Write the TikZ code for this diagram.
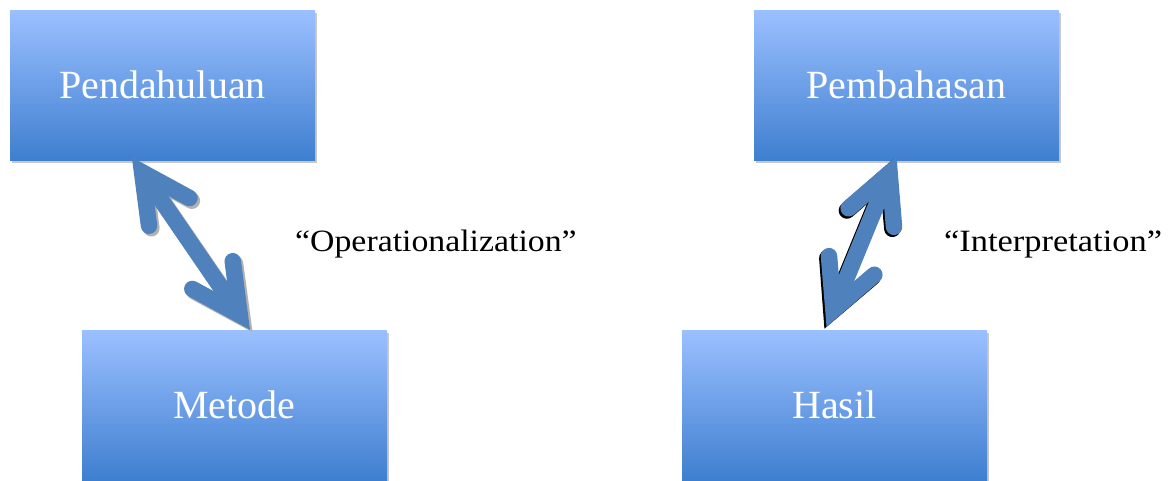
\documentclass[tikz,border=0pt]{standalone}
\usepackage{fontspec}
\setmainfont{Liberation Serif}
\usetikzlibrary{calc,shadows}
\definecolor{boxtop}{HTML}{9BC0FF}
\definecolor{boxbot}{HTML}{3F7FD0}
\definecolor{arrowblue}{HTML}{4F81BD}
\tikzset{
  box/.style={rectangle, minimum width=305pt, minimum height=150pt, inner sep=0pt,
    top color=boxtop, bottom color=boxbot, draw=none, text=white,
    font=\fontsize{40}{40}\selectfont,
    drop shadow={shadow xshift=2pt, shadow yshift=-2.5pt, fill=black, opacity=0.22}},
  lbl/.style={anchor=base west, inner sep=0pt, text=black, font=\fontsize{31}{31}\selectfont},
  arr/.style={line width=16.5pt, draw=arrowblue},
  arrshadeA/.style={line width=16.5pt, draw=black!30},
  arrshadeB/.style={line width=16.5pt, draw=black},
}
% #1 tip A, #2 tip B, #3 style, #4 offset
\newcommand{\dblarrow}[4]{%
  \coordinate (#1v) at ($(#1)!18.2pt!(#2)+(#4)$);
  \coordinate (#2v) at ($(#2)!18.2pt!(#1)+(#4)$);
  \coordinate (#1p) at ($(#1v)!54pt!27:(#2)$);
  \coordinate (#1m) at ($(#1v)!54pt!-27:(#2)$);
  \coordinate (#2p) at ($(#2v)!54pt!27:(#1)$);
  \coordinate (#2m) at ($(#2v)!54pt!-27:(#1)$);
  \draw[#3, line cap=butt] (#1v) -- (#2v);
  \draw[#3, line cap=round, line join=miter] (#1p) -- (#1v) -- (#1m);
  \draw[#3, line cap=round, line join=miter] (#2p) -- (#2v) -- (#2m);
}
\begin{document}
\begin{tikzpicture}[x=1pt, y=-1pt]
\useasboundingbox (0,0) rectangle (1172,480);
\fill[white] (0,0) rectangle (1172,480);

\node[box] (pend) at (162.5,85) {Pendahuluan};
\node[box] (pemb) at (906.5,85) {Pembahasan};
\node[box] (meto) at (234.5,405) {Metode};
\node[box] (hasi) at (834.5,405) {Hasil};

\coordinate (a1) at ($(pend.south west)+(122,-3)$);
\coordinate (a2) at (meto.north -| 250,0);
\coordinate (b1) at ($(pemb.south west)+(142.7,-4)$);
\coordinate (b2) at ($(hasi.north west)+(144.7,-3)$);

\dblarrow{a1}{a2}{arrshadeA}{2.5,2.5}
\dblarrow{a1}{a2}{arr}{0,0}

\dblarrow{b1}{b2}{arrshadeB}{-2,2}
\dblarrow{b1}{b2}{arr}{0,0}

\node[lbl] (op) at (295,251) {\scalebox{1.09}[1]{“Operationalization”}};
\node[lbl] (in) at (944,251) {\scalebox{1.11}[1]{“Interpretation”}};
\end{tikzpicture}
\end{document}
